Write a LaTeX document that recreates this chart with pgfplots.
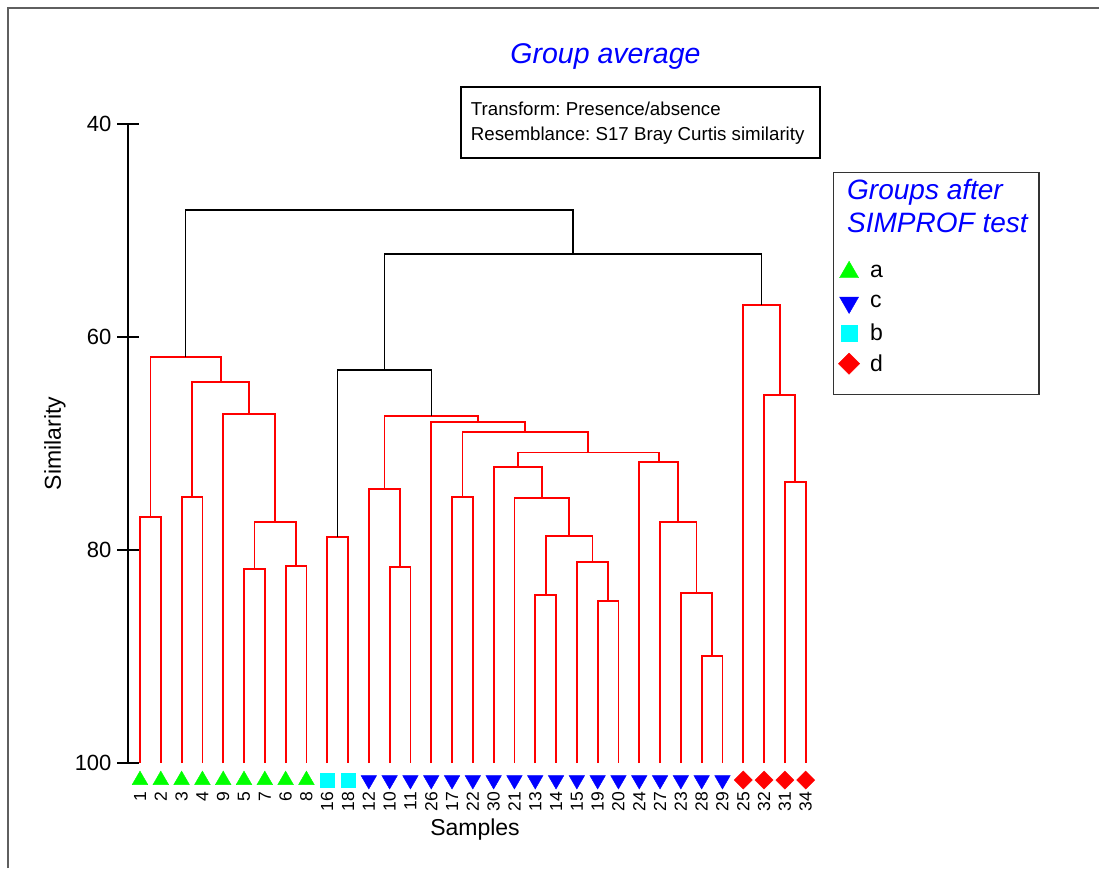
\documentclass[border=0pt]{standalone}
\usepackage{pgfplots}
\pgfplotsset{compat=1.18}
\usepackage{fontspec}
\setmainfont{Liberation Sans}
\definecolor{mkgreen}{RGB}{0,255,0}
\definecolor{mkblue}{RGB}{0,0,255}
\definecolor{mkcyan}{RGB}{0,255,255}
\definecolor{mkred}{RGB}{255,0,0}
\definecolor{framegray}{RGB}{95,95,95}
\newcommand{\fs}[1]{\fontsize{#1}{#1}\selectfont}
% legend symbol drawn once, in a fixed-size cell
\pgfplotsset{legsym/.style={legend image code/.code={%
  \path (-10.5pt,-10.5pt) rectangle (10.5pt,10.5pt);%
  \draw[##1] plot coordinates {(0pt,0pt)};}},
  link/.style={mkred, line width=1.8pt, forget plot},
  between/.style={black, line width=1.6pt, forget plot}}
\frenchspacing
\begin{document}
\begin{tikzpicture}[x=1pt,y=1pt]
\useasboundingbox (0pt,0pt) rectangle (1099pt,-868pt);
% outer frame (top and left edges)
\draw[framegray, line width=1.4pt] (8pt,-868pt) -- (8pt,-8pt) -- (1099pt,-8pt);
% title and info box
\node[anchor=base, text=mkblue, font=\fs{28.5}\itshape] at (605.5pt,-63pt) {Group average};
\draw[line width=1.8pt] (460.7pt,-87.3pt) rectangle (820pt,-158.3pt);
\node[anchor=base west, font=\fs{18.7}, inner sep=0pt] at (470.7pt,-115pt) {Transform: Presence/absence};
\node[anchor=base west, font=\fs{18.7}, inner sep=0pt] at (470.7pt,-140pt) {Resemblance: S17 Bray Curtis similarity};
% legend frame and heading
\draw[line width=1.4pt, black!80] (833.3pt,-172.7pt) rectangle (1039pt,-394.3pt);
\node[anchor=base west, text=mkblue, font=\fs{28}\itshape, inner sep=0pt] at (847pt,-199.3pt) {Groups after};
\node[anchor=base west, text=mkblue, font=\fs{28}\itshape, inner sep=0pt] at (847pt,-232.7pt) {SIMPROF test};
\begin{axis}[
  at={(479pt,-443.5pt)}, anchor=center,
  scale only axis, width=702pt, height=639pt,
  xmin=-0.577, xmax=33.17, ymin=40, ymax=100, y dir=reverse,
  clip=false,
  axis x line=none, axis y line=left,
  y axis line style={-, line width=1.5pt},
  ytick={40,60,80,100}, minor ytick={},
  tick align=center, major tick length=21pt,
  ytick style={line width=1.5pt, black},
  yticklabel style={font=\fs{22}, xshift=-2.5pt},
  /pgf/number format/assume math mode=true,
  ylabel={Similarity},
  ylabel style={font=\fs{23}, at={(axis description cs:-0.104,0.5)}, anchor=center},
  legend style={at={(axis description cs:1.0121,0.7853)}, anchor=north west,
    draw=none, fill=none, font=\fs{23}, row sep=9.3pt, inner sep=0pt, outer sep=0pt,
    nodes={inner sep=0pt}},
  legend cell align=left,
  /tikz/every odd column/.append style={column sep=10.5pt},
]
% --- group a ---
\addplot[link] coordinates {(0,100)(0,76.9)(1,76.9)(1,100)};
\addplot[link] coordinates {(2,100)(2,75.0)(3,75.0)(3,100)};
\addplot[link] coordinates {(5,100)(5,81.8)(6,81.8)(6,100)};
\addplot[link] coordinates {(7,100)(7,81.5)(8,81.5)(8,100)};
\addplot[link] coordinates {(5.5,81.8)(5.5,77.4)(7.5,77.4)(7.5,81.5)};
\addplot[link] coordinates {(4,100)(4,67.2)(6.5,67.2)(6.5,77.4)};
\addplot[link] coordinates {(2.5,75.0)(2.5,64.2)(5.25,64.2)(5.25,67.2)};
\addplot[link] coordinates {(0.5,76.9)(0.5,61.85)(3.875,61.85)(3.875,64.2)};
% --- group b ---
\addplot[link] coordinates {(9,100)(9,78.8)(10,78.8)(10,100)};
% --- group c ---
\addplot[link] coordinates {(12,100)(12,81.6)(13,81.6)(13,100)};
\addplot[link] coordinates {(11,100)(11,74.3)(12.5,74.3)(12.5,81.6)};
\addplot[link] coordinates {(15,100)(15,75.0)(16,75.0)(16,100)};
\addplot[link] coordinates {(19,100)(19,84.2)(20,84.2)(20,100)};
\addplot[link] coordinates {(22,100)(22,84.8)(23,84.8)(23,100)};
\addplot[link] coordinates {(21,100)(21,81.15)(22.5,81.15)(22.5,84.8)};
\addplot[link] coordinates {(19.5,84.2)(19.5,78.7)(21.75,78.7)(21.75,81.15)};
\addplot[link] coordinates {(18,100)(18,75.1)(20.625,75.1)(20.625,78.7)};
\addplot[link] coordinates {(17,100)(17,72.2)(19.3125,72.2)(19.3125,75.1)};
\addplot[link] coordinates {(27,100)(27,89.95)(28,89.95)(28,100)};
\addplot[link] coordinates {(26,100)(26,84.0)(27.5,84.0)(27.5,89.95)};
\addplot[link] coordinates {(25,100)(25,77.4)(26.75,77.4)(26.75,84.0)};
\addplot[link] coordinates {(24,100)(24,71.7)(25.875,71.7)(25.875,77.4)};
\addplot[link] coordinates {(18.15625,72.2)(18.15625,70.85)(24.9375,70.85)(24.9375,71.7)};
\addplot[link] coordinates {(15.5,75.0)(15.5,68.9)(21.546875,68.9)(21.546875,70.85)};
\addplot[link] coordinates {(14,100)(14,67.95)(18.5234,67.95)(18.5234,68.9)};
\addplot[link] coordinates {(11.75,74.3)(11.75,67.45)(16.2617,67.45)(16.2617,67.95)};
% --- group d ---
\addplot[link] coordinates {(31,100)(31,73.6)(32,73.6)(32,100)};
\addplot[link] coordinates {(30,100)(30,65.45)(31.5,65.45)(31.5,73.6)};
\addplot[link] coordinates {(29,100)(29,57.0)(30.75,57.0)(30.75,65.45)};
% --- links between groups ---
\addplot[between] coordinates {(9.5,78.8)(9.5,63.1)(14.0059,63.1)(14.0059,67.45)};
\addplot[between] coordinates {(11.7529,63.1)(11.7529,52.2)(29.875,52.2)(29.875,57.0)};
\addplot[between] coordinates {(2.1875,61.85)(2.1875,48.1)(20.814,48.1)(20.814,52.2)};
% --- sample symbols ---
\addplot[only marks, mark=triangle*, mark size=9pt, mkgreen, forget plot] coordinates {
 (0,101.6)(1,101.6)(2,101.6)(3,101.6)(4,101.6)(5,101.6)(6,101.6)(7,101.6)(8,101.6)};
\addplot[only marks, mark=square*, mark size=6.7pt, mkcyan, forget plot] coordinates {
 (9,101.6)(10,101.6)};
\addplot[only marks, mark=triangle*, mark size=9pt, mark options={rotate=180}, mkblue, forget plot] coordinates {
 (11,101.6)(12,101.6)(13,101.6)(14,101.6)(15,101.6)(16,101.6)(17,101.6)(18,101.6)(19,101.6)
 (20,101.6)(21,101.6)(22,101.6)(23,101.6)(24,101.6)(25,101.6)(26,101.6)(27,101.6)(28,101.6)};
\addplot[only marks, mark=square*, mark size=6.4pt, mark options={rotate=45}, mkred, forget plot] coordinates {
 (29,101.6)(30,101.6)(31,101.6)(32,101.6)};
% --- sample names ---
\addplot[draw=none, mark=none, forget plot, nodes near coords, point meta=explicit symbolic,
  every node near coord/.style={rotate=90, anchor=east, inner sep=0pt, font=\fs{17.5}, black}]
  table[meta=lab] {
x y lab
0 102.72 1
1 102.72 2
2 102.72 3
3 102.72 4
4 102.72 9
5 102.72 5
6 102.72 7
7 102.72 6
8 102.72 8
9 102.72 16
10 102.72 18
11 102.72 12
12 102.72 10
13 102.72 11
14 102.72 26
15 102.72 17
16 102.72 22
17 102.72 30
18 102.72 21
19 102.72 13
20 102.72 14
21 102.72 15
22 102.72 19
23 102.72 20
24 102.72 24
25 102.72 27
26 102.72 23
27 102.72 28
28 102.72 29
29 102.72 25
30 102.72 32
31 102.72 31
32 102.72 34
};
% legend symbols
\addlegendimage{legsym, draw=none, mark=triangle*, mark size=11pt, mkgreen}
\addlegendentry{a}
\addlegendimage{legsym, draw=none, mark=triangle*, mark size=11pt, mark options={rotate=180}, mkblue}
\addlegendentry{c}
\addlegendimage{legsym, draw=none, mark=square*, mark size=8pt, mkcyan}
\addlegendentry{b}
\addlegendimage{legsym, draw=none, mark=square*, mark size=7.5pt, mark options={rotate=45}, mkred}
\addlegendentry{d}
\end{axis}
\node[font=\fs{23}] at (475pt,-830pt) {Samples};
\end{tikzpicture}
\end{document}
